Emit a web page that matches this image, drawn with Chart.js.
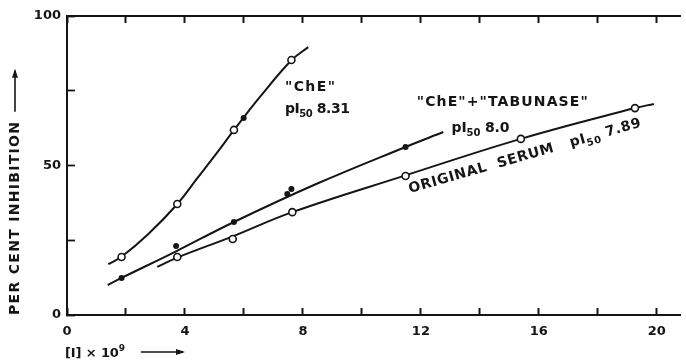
<!DOCTYPE html>
<html>
<head>
<meta charset="utf-8">
<script src="https://cdn.jsdelivr.net/npm/chart.js@4.4.0/dist/chart.umd.min.js"></script>
<style>
  html, body { margin: 0; padding: 0; background: #fff; }
  #wrap { width: 686px; height: 362px; }
</style>
</head>
<body>
<div id="wrap"><canvas id="chart" width="686" height="362"></canvas></div>
<script>
// smooth curves (x = [I] x 10^9, y = % inhibition)
const cheCurve      = [[1.40, 17.0], [1.85, 19.5], [2.75, 27.0], [3.75, 37.2], [4.40, 45.5], [5.05, 53.8], [5.66, 61.8], [6.55, 73.0], [7.61, 85.2], [8.18, 89.6]];
const tabunaseCurve = [[1.38, 10.0], [1.85, 12.4], [3.70, 21.3], [5.66, 31.1], [8.45, 43.8], [11.48, 56.2], [12.76, 61.2]];
const serumCurve    = [[3.06, 16.1], [3.74, 19.2], [5.62, 26.3], [7.64, 34.4], [11.48, 46.7], [15.39, 58.9], [19.26, 69.2], [19.90, 70.6]];

// measured points
const cheOpen       = [[1.85, 19.4], [3.74, 37.1], [5.66, 61.9], [7.61, 85.3]];
const cheFilled     = [[5.99, 65.9]];
const tabunaseDots  = [[1.85, 12.4], [3.70, 23.1], [5.66, 31.1], [7.47, 40.5], [7.61, 42.1], [11.48, 56.2]];
const serumOpen     = [[3.74, 19.4], [5.62, 25.4], [7.64, 34.4], [11.48, 46.5], [15.39, 58.9], [19.26, 69.2]];

const xLabels = [0, 4, 8, 12, 16, 20];
const yLabels = [0, 50, 100];

const INK  = "#151515";
const FONT = '"DejaVu Sans", "Liberation Sans", sans-serif';

const pts = arr => arr.map(([x, y]) => ({ x, y }));

function curve(data) {
  return {
    type: "line",
    data: pts(data),
    borderColor: INK,
    borderWidth: 2,
    pointRadius: 0,
    tension: 0.4,
    fill: false,
    order: 1,
  };
}

function markers(data, open) {
  return {
    type: "scatter",
    data: pts(data),
    pointRadius: open ? 3.5 : 3,
    pointBorderWidth: open ? 1.6 : 0,
    pointBorderColor: INK,
    pointBackgroundColor: open ? "#fff" : INK,
    order: 0,
  };
}

// inward tick marks, no grid lines
const inwardTicks = (len, w) => ({
  display: true,
  drawOnChartArea: false,
  drawTicks: true,
  tickLength: -len,
  tickColor: INK,
  tickWidth: w,
});

// fixed axis sizes, no label overhang padding
const fixSize = (w, h) => s => {
  if (w !== null) s.width = w;
  if (h !== null) s.height = h;
  s.paddingTop = s.paddingBottom = s.paddingLeft = s.paddingRight = 0;
};

// text runs with sub/superscripts, stretched to a target width
function textWidth(ctx, parts) {
  let w = 0, n = 0;
  ctx.letterSpacing = "0px";
  for (const [t, size] of parts) {
    ctx.font = `bold ${size}px ${FONT}`;
    w += ctx.measureText(t).width;
    n += t.length;
  }
  return [w, n];
}

function drawRuns(ctx, parts, x, y, target) {
  const [w, n] = textWidth(ctx, parts);
  const sp = target ? Math.max(-1, (target - w) / Math.max(1, n - 1)) : 0;
  ctx.letterSpacing = sp + "px";
  let cx = x;
  for (const [t, size, dy] of parts) {
    ctx.font = `bold ${size}px ${FONT}`;
    ctx.fillText(t, cx, y + dy);
    cx += ctx.measureText(t).width;
  }
  ctx.letterSpacing = "0px";
  return cx;
}

function arrow(ctx, x0, y0, x1, y1) {
  const a = Math.atan2(y1 - y0, x1 - x0);
  ctx.beginPath();
  ctx.lineWidth = 1.6;
  ctx.moveTo(x0, y0); ctx.lineTo(x1, y1);
  ctx.stroke();
  ctx.beginPath();
  ctx.moveTo(x1 + Math.cos(a) * 2, y1 + Math.sin(a) * 2);
  ctx.lineTo(x1 - Math.cos(a) * 7 - Math.sin(a) * 3, y1 - Math.sin(a) * 7 + Math.cos(a) * 3);
  ctx.lineTo(x1 - Math.cos(a) * 7 + Math.sin(a) * 3, y1 - Math.sin(a) * 7 - Math.cos(a) * 3);
  ctx.closePath();
  ctx.fill();
}

const LABELS = [
  { parts: [['"ChE"', 14, 0]], x: 7.39, y: 74.9, w: 50 },
  { parts: [["pI", 14, 0], ["50", 10, 4], [" 8.31", 14, 0]], x: 7.39, y: 67.6, w: 65 },
  { parts: [['"ChE"+"TABUNASE"', 14, 0]], x: 11.86, y: 69.9, w: 171 },
  { parts: [["pI", 14, 0], ["50", 10, 4], [" 8.0", 14, 0]], x: 13.04, y: 61.2, w: 58 },
];

const annotations = {
  id: "annotations",
  afterDraw(chart) {
    const ctx = chart.ctx;
    const x = chart.scales.x, y = chart.scales.y;
    const B = y.getPixelForValue(0);
    ctx.save();
    ctx.strokeStyle = INK;
    ctx.fillStyle = INK;
    ctx.textBaseline = "alphabetic";
    ctx.textAlign = "left";

    for (const l of LABELS) {
      drawRuns(ctx, l.parts, x.getPixelForValue(l.x), y.getPixelForValue(l.y), l.w);
    }

    // rotated serum label
    ctx.save();
    ctx.translate(x.getPixelForValue(11.63), y.getPixelForValue(40.8));
    ctx.rotate(-16 * Math.PI / 180);
    drawRuns(ctx, [["ORIGINAL  SERUM   pI", 14, 0], ["50", 10, 4], [" 7.89", 14, 0]], 0, 0, 241);
    ctx.restore();

    // y axis title
    ctx.save();
    ctx.translate(15, B);
    ctx.rotate(-Math.PI / 2);
    ctx.textBaseline = "middle";
    const end = drawRuns(ctx, [["PER CENT INHIBITION", 14, 0]], 0, 0, 193);
    arrow(ctx, end + 9, 0, end + 50, 0);
    ctx.restore();

    // x axis title
    const xe = drawRuns(ctx, [["[I] × 10", 13, 0], ["9", 9, -6]], 65, 357, 60);
    arrow(ctx, xe + 16, 352, 183, 352);

    ctx.restore();
  },
};

const tickFont = { family: FONT, size: 13, weight: "bold" };

new Chart(document.getElementById("chart"), {
  data: {
    datasets: [
      markers(cheOpen, true),
      markers(cheFilled, false),
      markers(tabunaseDots, false),
      markers(serumOpen, true),
      curve(cheCurve),
      curve(tabunaseCurve),
      curve(serumCurve),
    ],
  },
  options: {
    responsive: false,
    animation: false,
    layout: { padding: { top: 16, right: 0, left: 0, bottom: 0 } },
    plugins: { legend: { display: false }, tooltip: { enabled: false } },
    scales: {
      x: {
        type: "linear",
        position: "bottom",
        min: 0,
        max: 20.8,
        afterFit: fixSize(null, 47),
        grid: inwardTicks(7, 2),
        border: { display: true, color: INK, width: 2 },
        ticks: {
          stepSize: 2,
          includeBounds: false,
          autoSkip: false,
          maxRotation: 0,
          padding: 16,
          color: INK,
          font: tickFont,
          callback: v => xLabels.includes(v) ? String(v) : "",
        },
      },
      xTop: {
        type: "linear",
        position: "top",
        min: 0,
        max: 20.8,
        afterFit: fixSize(null, 0),
        grid: inwardTicks(7, 2),
        border: { display: true, color: INK, width: 2 },
        ticks: {
          stepSize: 2,
          includeBounds: false,
          autoSkip: false,
          maxRotation: 0,
          padding: 0,
          font: tickFont,
          callback: () => "",
        },
      },
      y: {
        type: "linear",
        min: 0,
        max: 100,
        afterFit: fixSize(67, null),
        grid: inwardTicks(8, 1.8),
        border: { display: true, color: INK, width: 2 },
        ticks: {
          stepSize: 25,
          padding: 14,
          color: INK,
          font: tickFont,
          callback: v => yLabels.includes(v) ? String(v) : "",
        },
      },
    },
  },
  plugins: [annotations],
});
</script>
</body>
</html>
